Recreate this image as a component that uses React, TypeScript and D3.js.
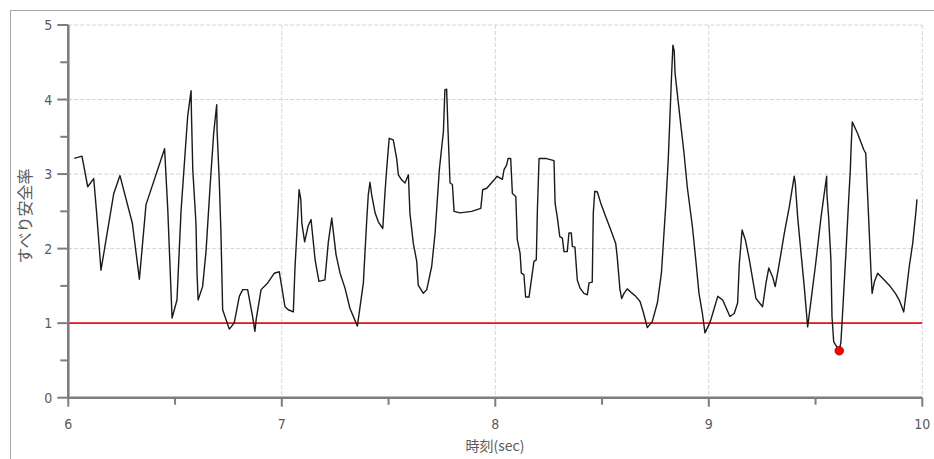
import React from "react";
import * as d3 from "d3";

const times: number[] = [
  6.028, 6.064, 6.091, 6.119, 6.133, 6.153, 6.213, 6.242, 6.3, 6.333,
  6.364, 6.451, 6.466, 6.486, 6.509, 6.528, 6.548, 6.559, 6.575, 6.577,
  6.583, 6.598, 6.603, 6.608, 6.629, 6.645, 6.664, 6.681, 6.695, 6.697,
  6.707, 6.715, 6.723, 6.754, 6.777, 6.801, 6.817, 6.84, 6.863, 6.874,
  6.88, 6.903, 6.934, 6.965, 6.988, 7.015, 7.03, 7.054, 7.062, 7.07,
  7.081, 7.089, 7.094, 7.107, 7.123, 7.137, 7.156, 7.174, 7.202, 7.218,
  7.234, 7.254, 7.273, 7.296, 7.319, 7.354, 7.382, 7.398, 7.405, 7.413,
  7.421, 7.437, 7.452, 7.473, 7.483, 7.491, 7.503, 7.522, 7.538, 7.546,
  7.562, 7.577, 7.593, 7.6, 7.616, 7.632, 7.639, 7.663, 7.679, 7.702,
  7.718, 7.738, 7.752, 7.757, 7.764, 7.772, 7.779, 7.788, 7.799, 7.807,
  7.835, 7.889, 7.932, 7.941, 7.96, 7.994, 8.009, 8.033, 8.041, 8.053,
  8.06, 8.072, 8.08, 8.096, 8.103, 8.116, 8.122, 8.134, 8.142, 8.158,
  8.169, 8.181, 8.192, 8.197, 8.205, 8.236, 8.275, 8.28, 8.29, 8.302,
  8.314, 8.322, 8.337, 8.345, 8.356, 8.361, 8.373, 8.384, 8.397, 8.415,
  8.431, 8.439, 8.454, 8.459, 8.466, 8.478, 8.494, 8.517, 8.541, 8.564,
  8.571, 8.584, 8.592, 8.603, 8.618, 8.637, 8.658, 8.678, 8.693, 8.712,
  8.735, 8.759, 8.778, 8.798, 8.81, 8.818, 8.826, 8.832, 8.838, 8.842,
  8.868, 8.884, 8.899, 8.923, 8.939, 8.954, 8.97, 8.982, 9.001, 9.01,
  9.042, 9.065, 9.099, 9.119, 9.135, 9.143, 9.156, 9.171, 9.19, 9.206,
  9.221, 9.252, 9.268, 9.281, 9.299, 9.311, 9.33, 9.354, 9.377, 9.4,
  9.405, 9.416, 9.432, 9.447, 9.463, 9.479, 9.499, 9.526, 9.545, 9.552,
  9.553, 9.561, 9.572, 9.577, 9.585, 9.611, 9.619, 9.63, 9.643, 9.655,
  9.663, 9.666, 9.672, 9.696, 9.727, 9.735, 9.745, 9.76, 9.765, 9.776,
  9.791, 9.815, 9.845, 9.874, 9.892, 9.913, 9.924, 9.939, 9.955, 9.971,
  9.975,
];

const safety: number[] = [
  3.21, 3.24, 2.83, 2.94, 2.47, 1.71, 2.74, 2.98, 2.34, 1.59,
  2.59, 3.34, 2.52, 1.07, 1.31, 2.5, 3.32, 3.77, 4.12, 3.79,
  3.06, 2.34, 1.67, 1.31, 1.49, 1.96, 2.83, 3.55, 3.93, 3.57,
  2.92, 2.21, 1.18, 0.92, 1.0, 1.36, 1.45, 1.45, 1.09, 0.89,
  1.05, 1.45, 1.54, 1.67, 1.69, 1.22, 1.18, 1.15, 1.76, 2.18,
  2.79, 2.66, 2.34, 2.09, 2.3, 2.39, 1.85, 1.56, 1.58, 2.09,
  2.41, 1.92, 1.67, 1.47, 1.2, 0.96, 1.54, 2.39, 2.72, 2.89,
  2.72, 2.48, 2.36, 2.27, 2.74, 3.06, 3.48, 3.46, 3.21, 2.99,
  2.92, 2.88, 2.99, 2.48, 2.07, 1.83, 1.51, 1.4, 1.45, 1.76,
  2.21, 3.06, 3.44, 3.57, 4.13, 4.14, 3.55, 2.88, 2.86, 2.5,
  2.48, 2.5, 2.54, 2.79, 2.81, 2.92, 2.97, 2.93, 3.06, 3.12,
  3.21, 3.21, 2.74, 2.7, 2.12, 1.94, 1.67, 1.65, 1.35, 1.35,
  1.58, 1.83, 1.85, 2.5, 3.21, 3.21, 3.18, 2.61, 2.43, 2.16,
  2.14, 1.96, 1.96, 2.21, 2.21, 2.03, 2.02, 1.58, 1.47, 1.4,
  1.38, 1.54, 1.55, 2.48, 2.77, 2.76, 2.61, 2.43, 2.25, 2.07,
  1.89, 1.45, 1.33, 1.4, 1.46, 1.41, 1.36, 1.29, 1.15, 0.94,
  1.02, 1.27, 1.67, 2.56, 3.19, 3.77, 4.35, 4.73, 4.65, 4.35,
  3.68, 3.28, 2.83, 2.3, 1.85, 1.4, 1.13, 0.87, 0.98, 1.05,
  1.36, 1.31, 1.09, 1.13, 1.27, 1.8, 2.25, 2.12, 1.85, 1.58,
  1.33, 1.22, 1.54, 1.74, 1.62, 1.49, 1.8, 2.21, 2.56, 2.97,
  2.88, 2.43, 1.94, 1.49, 0.95, 1.31, 1.76, 2.43, 2.83, 2.97,
  2.74, 2.43, 1.85, 1.09, 0.75, 0.63, 0.75, 1.31, 1.98, 2.65,
  3.06, 3.32, 3.7, 3.55, 3.32, 3.28, 2.65, 1.67, 1.4, 1.56,
  1.67, 1.6, 1.51, 1.4, 1.31, 1.15, 1.4, 1.76, 2.07, 2.52,
  2.66,
];

const xTicks: number[] = [6, 7, 8, 9, 10];
const xMinorTicks: number[] = [6.5, 7.5, 8.5, 9.5];
const yTicks: number[] = [0, 1, 2, 3, 4, 5];
const yMinorTicks: number[] = [0.5, 1.5, 2.5, 3.5, 4.5];
const thresholdValue = 1;
const xTitle = "時刻(sec)";
const yTitle = "すべり安全率";

export default function App() {
  const W = 934;
  const H = 459;
  const left = 68.3;
  const right = 922.3;
  const top = 25;
  const bottom = 397.7;

  const x = d3.scaleLinear().domain([6, 10]).range([left, right]);
  const y = d3.scaleLinear().domain([0, 5]).range([bottom, top]);

  const data = times.map((t, i) => ({ t, v: safety[i] }));
  const line = d3
    .line<{ t: number; v: number }>()
    .x((d) => x(d.t))
    .y((d) => y(d.v));

  const minIdx = d3.minIndex(safety);
  const minPt = data[minIdx];

  const axisColor = "#7d7d7d";
  const gridColor = "#d4d4d4";
  const textColor = "#5a5a5a";
  const tickFont = "'Liberation Sans Narrow', 'DejaVu Sans Condensed', 'DejaVu Sans', sans-serif";
  const cjkFont = "'Noto Sans CJK JP', 'Noto Sans', sans-serif";

  return (
    <svg
      width={W}
      height={H}
      style={{ position: "absolute", left: 0, top: 0, background: "#fff" }}
    >
      <rect x={10.5} y={10.5} width={W + 20} height={H + 20} fill="#fff" stroke="#a8a8a8" strokeWidth={1} />

      {yTicks.filter((v) => v > 0).map((v) => (
        <line key={"gy" + v} x1={left} x2={right} y1={y(v)} y2={y(v)} stroke={gridColor} strokeWidth={1} strokeDasharray="4,2" />
      ))}
      {xTicks.filter((v) => v > 6).map((v) => (
        <line key={"gx" + v} x1={x(v)} x2={x(v)} y1={top} y2={bottom} stroke={gridColor} strokeWidth={1} strokeDasharray="4,2" />
      ))}

      <line x1={left} x2={right} y1={y(thresholdValue)} y2={y(thresholdValue)} stroke="#ee1111" strokeWidth={1.6} />

      <path d={line(data) || ""} fill="none" stroke="#1a1a1a" strokeWidth={1.4} strokeLinejoin="round" />

      <circle cx={x(minPt.t)} cy={y(minPt.v)} r={4.3} fill="#ff0000" stroke="#8a0000" strokeWidth={0.8} />

      <line x1={left} x2={left} y1={top} y2={bottom + 1} stroke={axisColor} strokeWidth={2.6} />
      <line x1={left - 1} x2={right} y1={bottom} y2={bottom} stroke={axisColor} strokeWidth={2.6} />

      {yTicks.map((v) => (
        <g key={"yt" + v}>
          <line x1={left - 11} x2={left} y1={y(v)} y2={y(v)} stroke={axisColor} strokeWidth={2} />
          <text x={left - 16} y={y(v) + 5} textAnchor="end" fontSize={14} fill={textColor} fontFamily={tickFont}>
            {v}
          </text>
        </g>
      ))}
      {yMinorTicks.map((v) => (
        <line key={"ym" + v} x1={left - 8} x2={left} y1={y(v)} y2={y(v)} stroke={axisColor} strokeWidth={2} />
      ))}
      {xTicks.map((v) => (
        <g key={"xt" + v}>
          <line x1={x(v)} x2={x(v)} y1={bottom} y2={bottom + 9} stroke={axisColor} strokeWidth={2} />
          <text x={x(v)} y={bottom + 31} textAnchor="middle" fontSize={14} fill={textColor} fontFamily={tickFont}>
            {v}
          </text>
        </g>
      ))}
      {xMinorTicks.map((v) => (
        <line key={"xm" + v} x1={x(v)} x2={x(v)} y1={bottom} y2={bottom + 7} stroke={axisColor} strokeWidth={2} />
      ))}

      <text x={495} y={451} textAnchor="middle" fontSize={14} fill={textColor} fontFamily={cjkFont}>
        {xTitle}
      </text>
      <text
        transform="translate(31,216) rotate(-90)"
        textAnchor="middle"
        fontSize={16}
        fill={textColor}
        fontFamily={cjkFont}
      >
        {yTitle}
      </text>
    </svg>
  );
}
